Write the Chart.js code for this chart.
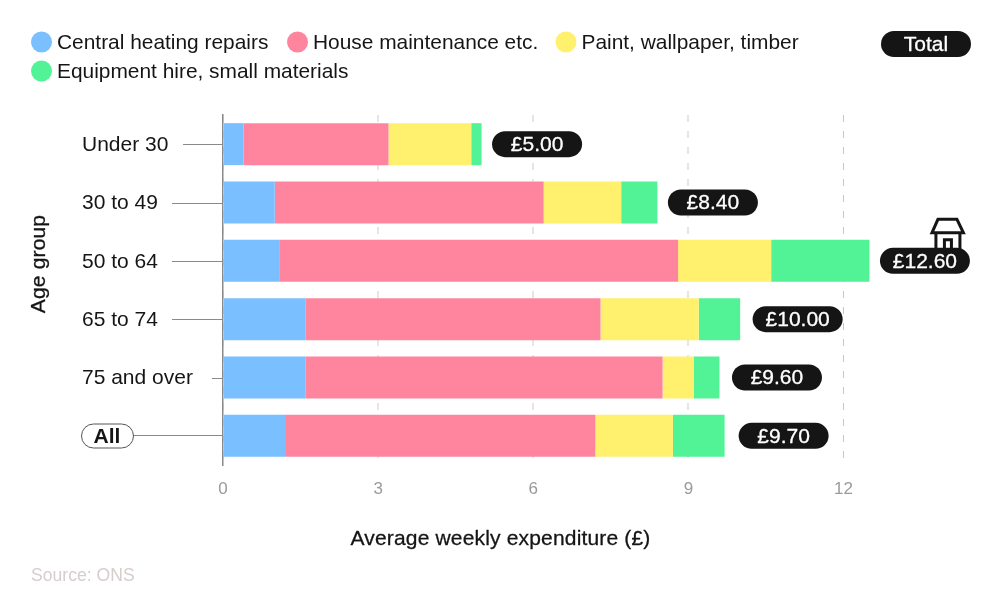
<!DOCTYPE html>
<html><head><meta charset="utf-8">
<style>html,body{margin:0;padding:0;background:#fff}canvas{display:block}</style>
<script src="https://cdn.jsdelivr.net/npm/chart.js@4"></script>
</head><body><canvas id="c" width="1000" height="610"></canvas>
<script>
const categories = ['Under 30','30 to 49','50 to 64','65 to 74','75 and over','All'];
const heating = [0.4,1.0,1.1,1.6,1.6,1.2];
const maintenance = [2.8,5.2,7.7,5.7,6.9,6.0];
const paint = [1.6,1.5,1.8,1.9,0.6,1.5];
const equipment = [0.2,0.7,1.9,0.8,0.5,1.0];
const totals = ['£5.00','£8.40','£12.60','£10.00','£9.60','£9.70'];
const xTicks = [0,3,6,9,12];
const seriesLabels = ['Central heating repairs','House maintenance etc.','Paint, wallpaper, timber','Equipment hire, small materials'];
const seriesColors = ['#7ABFFF','#FF859E','#FFF06E','#52F297'];
const FONT = '"Liberation Sans"';
const INK = '#151515';

function pill(ctx,x,y,w,h){ctx.beginPath();ctx.roundRect(x,y,w,h,h/2);}
function medium(ctx,t,x,y,color){
  ctx.fillStyle=color;ctx.strokeStyle=color;ctx.lineWidth=0.3;ctx.lineJoin='round';
  ctx.fillText(t,x,y);ctx.strokeText(t,x,y);
}
const overlay = {
  id:'overlay',
  afterDatasetsDraw(chart){
    const ctx=chart.ctx, xs=chart.scales.x, ys=chart.scales.y;
    const leaderStart=[183,172,172,172,212,133];
    const pillGap=[10.5,10.5,10.5,12.5,12.5,14];
    ctx.save();
    const lx=[41.5,297.5,566,41.5], ly=[42,42,42,71];
    ctx.font='20.9px '+FONT; ctx.textBaseline='middle'; ctx.textAlign='left';
    seriesLabels.forEach((t,i)=>{
      ctx.fillStyle=seriesColors[i];
      ctx.beginPath();ctx.arc(lx[i],ly[i],10.5,0,Math.PI*2);ctx.fill();
      ctx.fillStyle=INK;ctx.fillText(t,lx[i]+15.5,ly[i]+1.5);
    });
    ctx.fillStyle=INK;pill(ctx,881,31,90,26);ctx.fill();
    ctx.textAlign='center';ctx.font='21px '+FONT;
    medium(ctx,'Total',926,45,'#fff');
    categories.forEach((c,i)=>{
      const y=Math.round(ys.getPixelForValue(i))+(c==='All'?-0.5:0.5);
      ctx.font=(c==='All'?'bold ':'')+'21px '+FONT;
      ctx.strokeStyle='#8a8a8a';ctx.lineWidth=1;
      ctx.beginPath();ctx.moveTo(leaderStart[i],y);ctx.lineTo(223,y);ctx.stroke();
      if(c==='All'){
        ctx.strokeStyle='#555';pill(ctx,81.5,y-11.5,52,24);ctx.stroke();
        ctx.fillStyle=INK;ctx.textAlign='center';ctx.fillText(c,107,y+1.5);
      }
      const sum=heating[i]+maintenance[i]+paint[i]+equipment[i];
      const px=xs.getPixelForValue(sum)+pillGap[i];
      const py=ys.getPixelForValue(i);
      if(c==='50 to 64'){
        const ox=px, oy=py;
        ctx.strokeStyle=INK;ctx.lineWidth=3;ctx.lineJoin='miter';
        ctx.beginPath();
        ctx.moveTo(ox+52,oy-28);ctx.lineTo(ox+58,oy-41.5);ctx.lineTo(ox+77,oy-41.5);ctx.lineTo(ox+83.5,oy-28);ctx.closePath();ctx.stroke();
        ctx.beginPath();
        ctx.moveTo(ox+56,oy-28);ctx.lineTo(ox+56,oy-10);
        ctx.moveTo(ox+80,oy-28);ctx.lineTo(ox+80,oy-10);
        ctx.moveTo(ox+64.5,oy-10);ctx.lineTo(ox+64.5,oy-21);ctx.lineTo(ox+71.5,oy-21);ctx.lineTo(ox+71.5,oy-10);
        ctx.stroke();
      }
      ctx.fillStyle=INK;pill(ctx,px,py-13,90,26);ctx.fill();
      ctx.textAlign='center';ctx.font='21px '+FONT;
      medium(ctx,totals[i],px+45,py+1,'#fff');
    });
    ctx.textAlign='center';ctx.font='21px '+FONT;
    ctx.letterSpacing='0.17px';
    medium(ctx,'Average weekly expenditure (£)',500.5,539.5,INK);
    ctx.save();ctx.translate(39.5,264);ctx.rotate(-Math.PI/2);medium(ctx,'Age group',0,0,INK);ctx.restore();
    ctx.letterSpacing='0px';
    ctx.fillStyle='#D6CDCD';ctx.textAlign='left';ctx.font='17.6px '+FONT;
    ctx.fillText('Source: ONS',31,576);
    ctx.restore();
  }
};

const series = [heating,maintenance,paint,equipment];
new Chart(document.getElementById('c'),{
  type:'bar',
  data:{labels:categories,datasets:series.map((d,i)=>({label:seriesLabels[i],data:d,backgroundColor:seriesColors[i],borderWidth:0,barPercentage:0.72,categoryPercentage:1}))},
  options:{
    indexAxis:'y',responsive:false,animation:false,
    layout:{padding:{left:82,right:53,top:115,bottom:105}},
    plugins:{legend:{display:false},title:{display:false},tooltip:{enabled:false}},
    scales:{
      x:{stacked:true,min:0,max:14,
        afterFit(s){s.height=40;},
        afterBuildTicks(s){s.ticks=xTicks.map(v=>({value:v}));},
        grid:{color:c=>c.tick&&c.tick.value===12?'#c6c6c6':'#e6e6e2',lineWidth:c=>c.tick&&c.tick.value===12?1:2,drawTicks:false},
        border:{display:false,dash:[7,9]},
        ticks:{color:'#9a9a9a',font:{family:FONT,size:17},padding:14,maxRotation:0}},
      y:{stacked:true,
        afterFit(s){s.width=141;},
        grid:{display:false},
        border:{display:true,color:'#8a8a8a',width:1.5},
        ticks:{crossAlign:'far',color:INK,font:{family:FONT,size:21},autoSkip:false,labelOffset:1,
          callback(v){const l=this.getLabelForValue(v);return l==='All'?'':l;}}}
    }
  },
  plugins:[overlay]
});
</script></body></html>
